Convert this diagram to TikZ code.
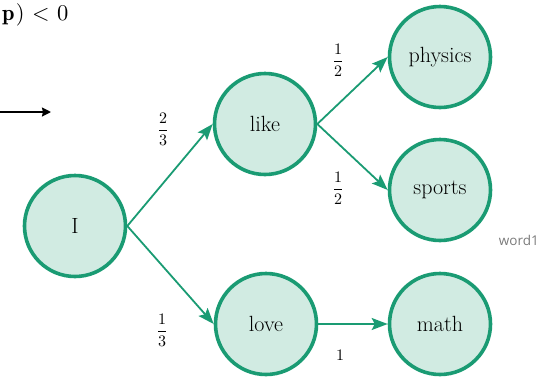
\documentclass[tikz,border=0pt]{standalone}
\usepackage{amsmath}
\usepackage{fontspec}
\usetikzlibrary{arrows.meta}
\newfontfamily\labelsans{Open Sans}
\definecolor{edgegreen}{HTML}{1A9B73}
\definecolor{nodefill}{HTML}{D1EBE2}
\definecolor{wordgray}{HTML}{7A7A7A}
\tikzset{
  wordnode/.style={circle, draw=edgegreen, fill=nodefill, line width=3.6pt,
    minimum size=101pt, inner sep=0pt, font=\fontsize{22}{25}\selectfont},
  flow/.style={draw=edgegreen, line width=1.8pt,
    -{Stealth[length=16pt,width=12pt,inset=3pt]}},
  prob/.style={inner sep=0pt},
}
\begin{document}
\begin{tikzpicture}[x=1pt,y=-1pt]
\useasboundingbox (0,0) rectangle (539,376);
\node[anchor=west, inner sep=0pt] (cond) at (2,15) {\scalebox{2.25}{$\mathbf{p}\mskip1mu)\mskip1mu<\mskip1mu 0$}};
\coordinate (arrstart) at (-2,112);
\coordinate (arrend) at (51,112);
\draw[line width=1.8pt, -{Stealth[length=9pt,width=9pt,inset=1pt]}] (arrstart) -- (arrend);

\node[wordnode] (I) at (75,226) {I};
\node[wordnode] (like) at (265,124) {like};
\node[wordnode] (love) at (266,324) {love};
\node[wordnode] (physics) at (440,57) {physics};
\node[wordnode] (sports) at (440,190) {sports};
\node[wordnode] (math) at (440,324) {math};

\draw[flow] (I.east) -- (like.west);
\draw[flow] (I.east) -- (love.west);
\draw[flow] (like.east) -- (physics.west);
\draw[flow] (like.east) -- (sports.west);
\draw[flow] (love.east) -- (math.west);

\node[prob] (p23) at (163,129) {\scalebox{1.6}{$\dfrac{2}{3}$}};
\node[prob] (p13) at (162,330) {\scalebox{1.6}{$\dfrac{1}{3}$}};
\node[prob] (p12a) at (338,60) {\scalebox{1.6}{$\dfrac{1}{2}$}};
\node[prob] (p12b) at (338,188) {\scalebox{1.6}{$\dfrac{1}{2}$}};
\node[prob] (p1) at (340,355) {\scalebox{1.6}{$1$}};

\node[anchor=east, inner sep=0pt, text=wordgray, font=\labelsans\fontsize{13.5}{16}\selectfont] (word) at (539,240) {word1};
\end{tikzpicture}
\end{document}
